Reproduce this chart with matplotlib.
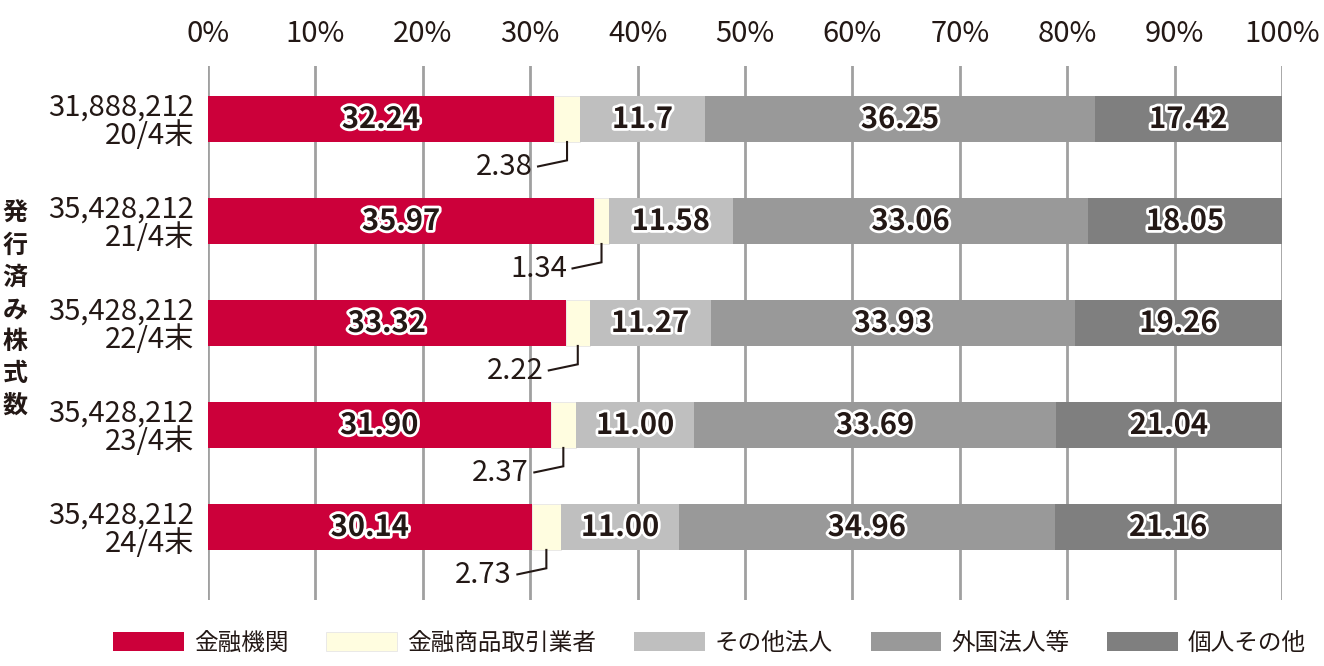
import matplotlib
matplotlib.use("Agg")
import matplotlib.pyplot as plt
import matplotlib.patheffects as pe
import numpy as np

plt.rcParams['font.family'] = ['Noto Sans CJK JP', 'DejaVu Sans']

# データ
periods = ["20/4末", "21/4末", "22/4末", "23/4末", "24/4末"]
shares = ["31,888,212", "35,428,212", "35,428,212", "35,428,212", "35,428,212"]
categories = ["金融機関", "金融商品取引業者", "その他法人", "外国法人等", "個人その他"]
kinyu = [32.24, 35.97, 33.32, 31.90, 30.14]
shoken = [2.38, 1.34, 2.22, 2.37, 2.73]
sonota = [11.7, 11.58, 11.27, 11.00, 11.00]
gaikoku = [36.25, 33.06, 33.93, 33.69, 34.96]
kojin = [17.42, 18.05, 19.26, 21.04, 21.16]
labels_kinyu = ["32.24", "35.97", "33.32", "31.90", "30.14"]
labels_shoken = ["2.38", "1.34", "2.22", "2.37", "2.73"]
labels_sonota = ["11.7", "11.58", "11.27", "11.00", "11.00"]
labels_gaikoku = ["36.25", "33.06", "33.93", "33.69", "34.96"]
labels_kojin = ["17.42", "18.05", "19.26", "21.04", "21.16"]

colors = ["#CC003A", "#FFFDE0", "#BFBFBF", "#999999", "#7F7F7F"]
txt_color = "#231815"

series = [kinyu, shoken, sonota, gaikoku, kojin]
series_labels = [labels_kinyu, labels_shoken, labels_sonota, labels_gaikoku, labels_kojin]

fig = plt.figure(figsize=(13.24, 6.66), dpi=100)
ax = fig.add_axes([208 / 1324, 1 - 600 / 666, 1074 / 1324, 534 / 666])

y = np.arange(len(periods))
bar_h = 0.45
left = np.zeros(len(periods))
for i, vals in enumerate(series):
    vals = np.array(vals)
    ax.barh(y, vals, left=left, height=bar_h, color=colors[i], label=categories[i],
            zorder=3, edgecolor="#E6E6E6" if i == 1 else "none", linewidth=0.6 if i == 1 else 0)
    for j in range(len(periods)):
        cx = left[j] + vals[j] / 2
        if i == 1:
            # 小さい値は引き出し線で表示
            y0 = y[j] + bar_h / 2
            ax.plot([cx, cx, cx - 2.7], [y0, y0 + 0.18, y0 + 0.24], color=txt_color,
                    lw=1.5, zorder=4, solid_joinstyle="miter", clip_on=False)
            ax.text(cx - 3.2, y0 + 0.245, series_labels[i][j], ha="right", va="center",
                    fontsize=21, color=txt_color, zorder=5)
        else:
            ax.text(cx, y[j], series_labels[i][j], ha="center", va="center",
                    fontsize=21, fontweight="bold", color=txt_color, zorder=5,
                    path_effects=[pe.withStroke(linewidth=4, foreground="white")])
    left = left + vals

ax.set_xlim(0, 100)
ax.set_ylim(len(periods) - 1 + 0.716, -0.52)
ax.set_xticks(np.arange(0, 101, 10))
ax.set_xticklabels([f"{v}%" for v in range(0, 101, 10)])
ax.xaxis.tick_top()
ax.tick_params(axis="x", length=0, pad=12, labelsize=21, labelcolor=txt_color)
ax.set_yticks(y)
ax.set_yticklabels([f"{s}\n{p}" for s, p in zip(shares, periods)], linespacing=0.95)
ax.tick_params(axis="y", length=0, pad=10, labelsize=21, labelcolor=txt_color)
ax.grid(axis="x", color="#A0A0A0", linewidth=2, zorder=0)
for sp in ax.spines.values():
    sp.set_visible(False)

fig.text(15 / 1324, 1 - 310 / 666, "\n".join("発行済み株式数"), ha="center", va="center",
         fontsize=18, fontweight="bold", color=txt_color, linespacing=1.42)

leg = fig.legend(loc="center", bbox_to_anchor=(0.536, 1 - 643 / 666), ncol=5, frameon=False,
                 fontsize=17, handlelength=3.0, handleheight=0.88, handletextpad=0.42,
                 columnspacing=1.6)
for t in leg.get_texts():
    t.set_color(txt_color)

fig.savefig("out.png", dpi=100)
